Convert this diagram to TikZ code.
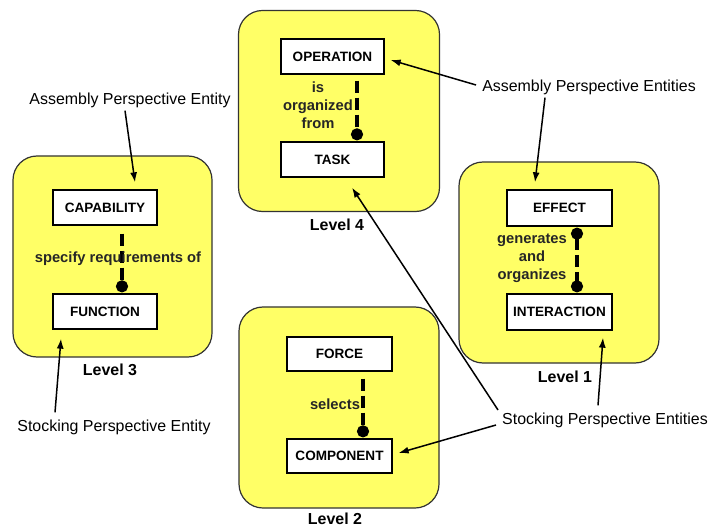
\documentclass[tikz,border=0pt]{standalone}
\usepackage{fontspec}
\setmainfont{Liberation Sans}
\usetikzlibrary{arrows.meta,calc}
\definecolor{lvlyellow}{RGB}{255,255,102}
\tikzset{
  level/.style={draw=black!80, line width=1.2bp, fill=lvlyellow, rounded corners=24bp, minimum width=#1, minimum height=201bp, inner sep=0pt},
  ent/.style={draw=black, line width=1.3bp, fill=white, minimum width=104bp, minimum height=35bp, inner sep=0pt, font=\fontsize{13.6}{15}\selectfont\bfseries},
  rel/.style={line width=3.5bp, dash pattern=on 12bp off 5bp},
  dotend/.style={-{Circle[length=12bp]}},
  reltext/.style={font=\fontsize{14.8}{18}\selectfont\bfseries, text=black!85, align=center, inner sep=0pt},
  lvltext/.style={font=\fontsize{16}{18}\selectfont\bfseries, inner sep=0pt},
  note/.style={font=\fontsize{16}{18}\selectfont, inner sep=2bp},
  pointer/.style={line width=1.5bp, -{Latex[length=10bp,width=7bp]}}
}
\begin{document}
\begin{tikzpicture}[x=1bp,y=-1bp]
\useasboundingbox (0,0) rectangle (709,527);
% level boxes
\node[level=201bp] (L4) at (339,111) {};
\node[level=199bp] (L3) at (112.5,256.5) {};
\node[level=200bp] (L1) at (559,262.5) {};
\node[level=200bp] (L2) at (339,407.5) {};
% entities
\node[ent, minimum width=103bp] (op) at (332.5,56.5) {OPERATION};
\node[ent, minimum width=103bp] (task) at (332.5,159.5) {TASK};
\node[ent] (cap) at (105,207.5) {CAPABILITY};
\node[ent] (fun) at (105,311.5) {FUNCTION};
\node[ent, minimum width=105bp, minimum height=36bp] (eff) at (559.5,208) {EFFECT};
\node[ent, minimum width=105bp, minimum height=36bp] (inter) at (559.5,312) {INTERACTION};
\node[ent, minimum width=105bp, minimum height=34bp] (force) at (339.5,354) {FORCE};
\node[ent, minimum width=105bp, minimum height=34bp] (comp) at (339.5,456) {COMPONENT};
% relations
\draw[rel, dotend] ($(op.south)+(24.5,6)$) -- ($(task.north)+(24.5,-1)$);
\draw[rel, dotend] ($(cap.south)+(17,8)$) -- ($(fun.north)+(17,-1)$);
\draw[rel, {Circle[length=12bp]}-{Circle[length=12bp]}] ($(eff.south)+(17.5,1)$) -- ($(inter.north)+(17.5,-1)$);
\draw[rel, dotend] ($(force.south)+(23.5,7)$) -- ($(comp.north)+(23.5,-1)$);
% relation labels
\node[reltext] (t4) at (318,105) {is\\organized\\from};
\node[reltext] (t3) at (118,259) {specify requirements of};
\node[reltext] (t1) at (532,258) {generates\\and\\organizes};
\node[reltext] (t2) at (335,404) {selects};
% level labels
\node[lvltext] (n4) at (337,225) {Level 4};
\node[lvltext] (n3) at (110,370) {Level 3};
\node[lvltext] (n1) at (565,377) {Level 1};
\node[lvltext] (n2) at (335,519) {Level 2};
% notes
\node[note] (ape) at (130,100) {Assembly Perspective Entity};
\node[note] (apes) at (589,87) {Assembly Perspective Entities};
\node[note] (spe) at (114,427) {Stocking Perspective Entity};
\node[note] (spes) at (605,420) {Stocking Perspective Entities};
% pointers
\draw[pointer] ($(ape.south)+(-5,1)$) -- ($(cap.north)+(30,-7)$);
\draw[pointer] ($(apes.west)+(-4,-2)$) -- ($(op.east)+(6,3.5)$);
\draw[pointer] ($(apes.south)+(-44,1)$) -- ($(eff.north)+(-24.5,-7)$);
\draw[pointer] ($(spe.north)+(-59,-5)$) -- ($(fun.south)+(-44,9)$);
\draw[pointer] ($(spes.west)+(-2,-10)$) -- ($(task.south)+(19.5,10)$);
\draw[pointer] ($(spes.west)+(-4,5)$) -- ($(comp.east)+(6,-3)$);
\draw[pointer] ($(spes.north)+(-7,-5)$) -- ($(inter.south)+(43.5,7)$);
\end{tikzpicture}
\end{document}
